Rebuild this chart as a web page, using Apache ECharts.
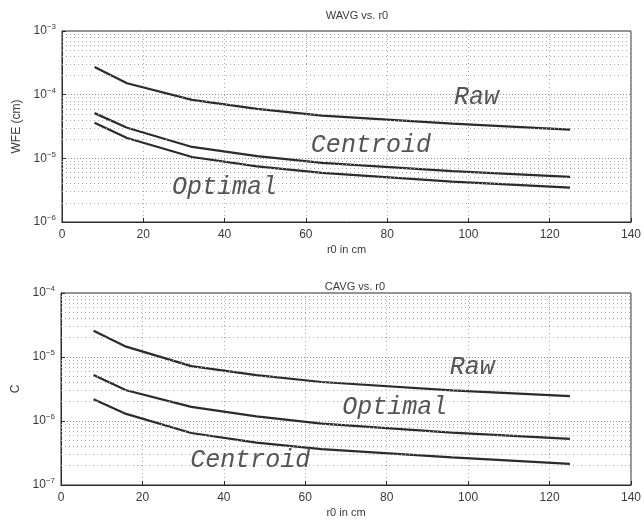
<!DOCTYPE html>
<html>
<head>
<meta charset="utf-8">
<script src="https://cdn.jsdelivr.net/npm/echarts@6/dist/echarts.min.js"></script>
<style>
  html, body { margin: 0; padding: 0; background: #fff; }
  #chart { width: 644px; height: 526px; }
</style>
</head>
<body>
<div id="chart"></div>
<script>
// r0 sample points (cm)
const r0 = [8, 16, 32, 48, 64, 96, 125]

// WAVG (WFE, cm)
const wavgRaw = [2.72e-4, 1.51e-4, 8.3e-5, 6.0e-5, 4.7e-5, 3.5e-5, 2.82e-5]
const wavgCentroid = [5.13e-5, 3.02e-5, 1.51e-5, 1.08e-5, 8.5e-6, 6.3e-6, 5.13e-6]
const wavgOptimal = [3.63e-5, 2.09e-5, 1.05e-5, 7.5e-6, 5.9e-6, 4.3e-6, 3.47e-6]

// CAVG (C)
const cavgRaw = [2.57e-5, 1.45e-5, 7.2e-6, 5.2e-6, 4.07e-6, 3.0e-6, 2.45e-6]
const cavgOptimal = [5.25e-6, 3.02e-6, 1.66e-6, 1.18e-6, 9.1e-7, 6.6e-7, 5.25e-7]
const cavgCentroid = [2.19e-6, 1.29e-6, 6.5e-7, 4.6e-7, 3.63e-7, 2.7e-7, 2.14e-7]

// minor log grid lines (2..9 x 10^k)
const minorGrid = []
for (let k = -7; k <= -4; k++) {
  for (let d = 2; d <= 9; d++) minorGrid.push(d * Math.pow(10, k))
}

const chart = echarts.init(document.getElementById('chart'))

const ink = '#2b2b2b'
const textColor = '#3a3a3a'
const sans = 'Liberation Sans'

const pair = arr => r0.map((x, i) => [x, arr[i]])

const supFormatter = v => {
  const e = Math.round(Math.log10(v))
  return '10{s|' + (e < 0 ? '\u2212' + (-e) : e) + '}'
}

const curveLabel = (name, coord) => ({
  symbol: 'circle',
  symbolSize: 1,
  itemStyle: { color: 'rgba(0,0,0,0)' },
  label: {
    show: true,
    position: 'inside',
    formatter: name,
    fontFamily: 'Liberation Mono',
    fontStyle: 'italic',
    fontSize: 25,
    color: '#555'
  },
  data: [{ coord: coord }]
})

const minorLines = (lo, hi) => ({
  silent: true,
  symbol: 'none',
  animation: false,
  label: { show: false },
  emphasis: { disabled: true },
  lineStyle: { color: '#aaaaaa', type: [1, 3], width: 1 },
  data: minorGrid.filter(v => v > lo && v < hi).map(v => [{ coord: [0, v] }, { coord: [140, v] }])
})

const makeX = (idx) => ({
  type: 'value',
  gridIndex: idx,
  min: 0,
  max: 140,
  interval: 20,
  name: 'r0 in cm',
  nameLocation: 'middle',
  nameGap: 22,
  nameTextStyle: { color: textColor, fontFamily: sans, fontSize: 11 },
  axisLine: { lineStyle: { color: ink } },
  axisTick: { inside: true, length: 4, lineStyle: { color: ink } },
  axisLabel: { color: textColor, fontFamily: sans, fontSize: 12, margin: 7 },
  splitLine: { show: true, lineStyle: { color: '#b0b0b0', type: [1, 3] } }
})

const makeY = (idx, min, max, name, gap) => ({
  type: 'log',
  logBase: 10,
  gridIndex: idx,
  min: min,
  max: max,
  name: name,
  nameLocation: 'middle',
  nameGap: gap,
  nameTextStyle: { color: textColor, fontFamily: sans, fontSize: 12 },
  axisLine: { lineStyle: { color: ink } },
  axisTick: { inside: true, length: 4, lineStyle: { color: ink } },
  axisLabel: {
    formatter: supFormatter,
    color: textColor,
    fontFamily: sans,
    fontSize: 12,
    margin: 6,
    rich: { s: { fontSize: 8, verticalAlign: 'top', padding: [0, 0, 8, 0], fontFamily: sans, color: textColor } }
  },
  splitLine: { show: true, lineStyle: { color: '#909090', type: [1, 2] } }
})

const lineSeries = (xi, data, extra) => Object.assign({
  type: 'line',
  xAxisIndex: xi,
  yAxisIndex: xi,
  data: data,
  showSymbol: false,
  lineStyle: { color: ink, width: 2.2 },
  animation: false
}, extra || {})

const option = {
  backgroundColor: '#fff',
  title: [
    { text: 'WAVG vs. r0', left: 352, top: 5, textAlign: 'center',
      textStyle: { color: textColor, fontFamily: sans, fontSize: 11, fontWeight: 'normal' } },
    { text: 'CAVG vs. r0', left: 350, top: 276, textAlign: 'center',
      textStyle: { color: textColor, fontFamily: sans, fontSize: 11, fontWeight: 'normal' } }
  ],
  grid: [
    { left: 62, right: 8, top: 31, height: 191, show: true, borderColor: ink, borderWidth: 1 },
    { left: 61, right: 12, top: 293, height: 192, show: true, borderColor: ink, borderWidth: 1 }
  ],
  xAxis: [makeX(0), makeX(1)],
  yAxis: [
    makeY(0, 1e-6, 1e-3, 'WFE (cm)', 34),
    makeY(1, 1e-7, 1e-4, 'C', 38)
  ],
  series: [
    lineSeries(0, pair(wavgRaw), {
      markLine: minorLines(1e-6, 1e-3),
      markPoint: curveLabel('Raw', [102, 9.1e-5])
    }),
    lineSeries(0, pair(wavgCentroid), { markPoint: curveLabel('Centroid', [76, 1.62e-5]) }),
    lineSeries(0, pair(wavgOptimal), { markPoint: curveLabel('Optimal', [40, 3.47e-6]) }),
    lineSeries(1, pair(cavgRaw), {
      markLine: minorLines(1e-7, 1e-4),
      markPoint: curveLabel('Raw', [101, 6.9e-6])
    }),
    lineSeries(1, pair(cavgOptimal), { markPoint: curveLabel('Optimal', [82, 1.66e-6]) }),
    lineSeries(1, pair(cavgCentroid), { markPoint: curveLabel('Centroid', [46.5, 2.45e-7]) })
  ]
}

chart.setOption(option)
</script>
</body>
</html>
